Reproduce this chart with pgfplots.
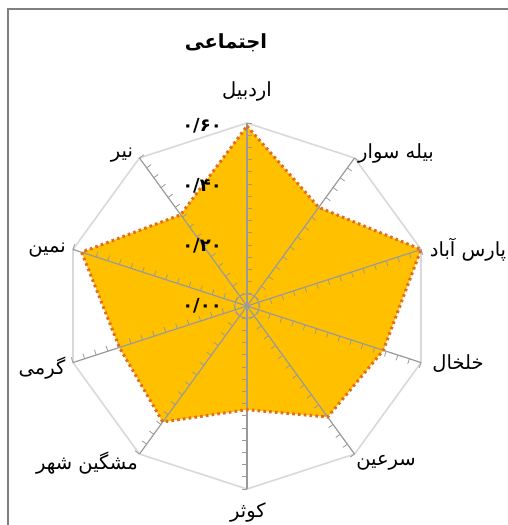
\documentclass[border=0pt]{standalone}
\usepackage{pgfplots}
\pgfplotsset{compat=1.18}
\usepackage{pgfplotstable}
\usepackage{fontspec}
\setmainfont{DejaVu Sans}
\TeXXeTstate=1
\newfontfamily\arabicfont[Script=Arabic]{DejaVu Sans}
\definecolor{gold}{HTML}{FFC000}
\definecolor{dotor}{HTML}{E36C1E}
\definecolor{spoke}{HTML}{9A9A9A}
\definecolor{ring}{HTML}{D9D9D9}
\definecolor{frame}{HTML}{7F7F7F}
\pgfplotstableread{
ang r
90 0.59
54 0.40
18 0.60
-18 0.47
-54 0.45
-90 0.34
-126 0.47
-162 0.44
162 0.57
126 0.37
90 0.59
}\datatable
\pgfplotsset{radar/.style={at={(247pt,-306pt)}, anchor=origin, x=305pt, y=305pt,
  xmin=-0.7,xmax=0.7,ymin=-0.7,ymax=0.7, axis lines=none, ticks=none, clip=false}}
\begin{document}
\begin{tikzpicture}
\useasboundingbox (0,0) rectangle (508pt,-525pt);
\fill[white] (0,0) rectangle (508pt,-525pt);
\draw[frame, line width=1.3pt] (8pt,-9pt) rectangle (530pt,-545pt);
\begin{scope}[shift={(247pt,-306pt)}, x=305pt, y=305pt]
  \draw[ring, line width=1.6pt] (90:0.6) -- (54:0.6) -- (18:0.6) -- (-18:0.6) -- (-54:0.6) -- (-90:0.6) -- (-126:0.6) -- (-162:0.6) -- (162:0.6) -- (126:0.6) -- cycle;
\end{scope}
\begin{axis}[radar]
\addplot[draw=none, fill=gold, data cs=polar] table[x=ang, y=r] {\datatable} -- cycle;
\end{axis}
\begin{scope}[shift={(247pt,-306pt)}, x=305pt, y=305pt]
  \draw[spoke, line width=0.8pt] (0,0) circle (0.04);
  \foreach \a in {90,54,18,-18,-54,-90,-126,-162,162,126}{
    \draw[spoke, line width=1.2pt] (0,0) -- (\a:0.6);
    \foreach \k in {1,...,15}{
      \draw[spoke, line width=0.8pt] ({\a}:{0.04*\k}) -- ++({\a-90}:0.018);
    }
  }
\end{scope}
\begin{axis}[radar]
\addplot[dotor, line width=3pt, dash pattern=on 2.6pt off 3.2pt, data cs=polar] table[x=ang, y=r] {\datatable} -- cycle;
\end{axis}
% title
\node[font=\arabicfont\bfseries\fontsize{19.5}{22}\selectfont] at (226pt,-43pt) {\beginR اجتماعی\endR};
% category labels
\begin{scope}[every node/.style={font=\arabicfont\fontsize{19.5}{22}\selectfont, inner sep=0pt}]
\node at (247pt,-91pt) {\beginR اردبیل\endR};
\node at (396pt,-153pt) {\beginR بیله سوار\endR};
\node at (468pt,-250pt) {\beginR پارس آباد\endR};
\node at (458pt,-364pt) {\beginR خلخال\endR};
\node at (386pt,-463pt) {\beginR سرعین\endR};
\node at (248pt,-512pt) {\beginR کوثر\endR};
\node at (87pt,-463pt) {\beginR مشگین شهر\endR};
\node at (42pt,-368pt) {\beginR گرمی\endR};
\node at (47pt,-250pt) {\beginR نمین\endR};
\node at (122pt,-155pt) {\beginR نیر\endR};
\end{scope}
% value labels
\begin{scope}[every node/.style={font=\arabicfont\bfseries\fontsize{18}{20}\selectfont, inner sep=0pt, anchor=east}]
\node at (222pt,-126pt) {۰/۶۰};
\node at (222pt,-186pt) {۰/۴۰};
\node at (222pt,-246pt) {۰/۲۰};
\node at (222pt,-306pt) {۰/۰۰};
\end{scope}
\end{tikzpicture}
\end{document}
